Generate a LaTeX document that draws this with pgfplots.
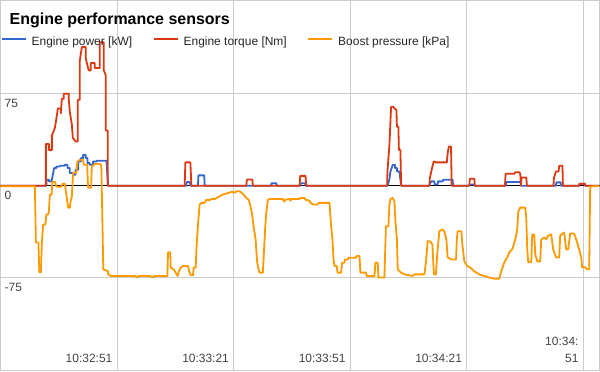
\documentclass[border=0pt]{standalone}
\usepackage{pgfplots}
\pgfplotsset{compat=1.18}
\usepackage{fontspec}
\setmainfont{Liberation Sans}
\definecolor{gpower}{HTML}{3366CC}
\definecolor{gtorque}{HTML}{DC3912}
\definecolor{gboost}{HTML}{FF9900}
\definecolor{ggrid}{HTML}{CCCCCC}
\definecolor{glabel}{HTML}{444444}
\begin{document}
\begin{tikzpicture}
\begin{axis}[
  width=600pt, height=371pt, scale only axis,
  xmin=0, xmax=154.2, ymin=-151, ymax=151,
  axis line style={draw=ggrid, line width=1pt},
  xtick={30,60,90,120,150},
  xticklabels={10:32:51,10:33:21,10:33:51,10:34:21,{10:34:\\51}},
  ytick={-75,75},
  yticklabels={-75,75},
  extra y ticks={0}, extra y tick labels={0},
  extra y tick style={grid style={draw=black, line width=1pt}},
  grid=major, grid style={draw=ggrid, line width=1pt},
  major tick length=0pt,
  tick style={draw=none},
  xticklabel style={anchor=south east, inner sep=0pt, xshift=-4.5pt, yshift=8pt, align=right, font=\fontsize{12}{17}\selectfont, text=glabel},
  yticklabel style={anchor=north west, inner sep=0pt, xshift=4pt, yshift=-5pt, font=\fontsize{12}{14}\selectfont, text=glabel},
  legend columns=3,
  legend style={at={(0,1)}, anchor=north west, yshift=-36pt, draw=none, fill=none, inner sep=0pt,
    nodes={inner sep=0pt, text=black!85, font=\fontsize{12}{14}\selectfont},
    /tikz/every even column/.append style={column sep=20.5pt},
    /tikz/every odd column/.append style={column sep=5pt}},
  legend image code/.code={\draw[#1, line width=2pt] (0pt,3pt) -- (24pt,3pt);},
  every axis plot/.append style={line width=1.8pt, line join=round},
]
% Engine power [kW]
\addplot[gpower] coordinates {
(0,0)(11.86,0)(11.86,4.9)(12.45,4.9)(12.45,3.5)(13.14,3.5)(13.55,10.3)(13.81,14.4)(14.43,14.4)(14.43,15.7)(15.28,15.7)(15.28,16.2)(16.56,16.2)(16.56,17.1)(17.26,17.1)(17.26,14.4)(17.85,14.4)(17.85,10.3)(18.70,10.3)(18.70,8.9)(19.31,8.9)(19.31,13)(19.98,13)(19.98,19.7)(20.68,19.7)(20.68,22.5)(21.27,22.5)(21.27,25.2)(21.96,25.2)(21.96,22.5)(22.40,22.5)(22.40,18.4)(22.99,18.4)(22.99,17.1)(23.84,17.1)(23.84,19.7)(24.71,19.7)(24.71,20.3)(27.28,20.3)(27.69,0)
(47.85,0)(47.95,3)(48.78,3)(48.88,0)(50.83,0)(50.95,8.4)(52.45,8.4)(52.56,0)(69.70,0)(69.8,2)(71.0,2)(71.14,0)(77.16,0)(77.3,2)(78.4,2)(78.52,0)
(99.68,0)(100.12,5.4)(100.38,11.6)(100.97,17)(101.58,17)(101.58,14.4)(102.10,14.4)(102.10,11.6)(102.69,11.6)(103.13,0)
(110.40,0)(110.5,2)(110.99,3.5)(111.68,3.5)(111.8,1)(112.53,1)(112.65,3.5)(113.82,3.5)(113.95,4.9)(116.39,4.9)(116.5,0)
(120.69,0)(120.8,1)(121.9,1)(121.97,0)(130.12,0)(130.2,3)(133.9,3)(133.98,0)(142.98,0)(143.1,2.7)(144.2,2.7)(144.26,0)(148.97,0)(149.05,1.6)(150.45,1.6)(150.51,0)(154.11,0)
};
\addlegendentry{Engine power [kW]}
% Engine torque [Nm]
\addplot[gtorque] coordinates {
(0,0)(11.68,0)(11.68,34)(12.45,34)(12.45,29)(13.22,29)(13.22,41)(13.99,47)(14.50,57)(14.76,63)(15.53,63)(15.53,59)(15.79,71)(16.30,71)(16.30,75)(17.59,75)(17.59,70)(17.85,60)(18.36,50)(18.62,39)(19.39,36)(19.90,36)(19.90,70)(20.42,70)(20.42,102)(20.93,113)(21.96,113)(21.96,104)(22.22,100)(22.73,94)(23.25,94)(23.25,100)(24.27,100)(24.27,96)(25.56,96)(25.56,117)(26.59,117)(26.59,94)(27.10,90)(27.10,45)(27.62,45)(27.62,0)
(47.41,0)(47.59,19)(48.88,19)(49.14,0)(63.28,0)(63.43,5)(64.82,5)(64.97,0)(76.98,0)(77.16,8)(78.52,8)(78.70,0)
(99.53,0)(99.61,11.6)(100.12,33.3)(100.55,64.3)(101.15,64.3)(101.40,63)(101.92,61.7)(102.05,48.1)(102.43,48.1)(102.56,29.2)(102.95,29.2)(103.13,0)
(110.40,0)(110.53,6.2)(110.99,13)(111.51,19.7)(112.12,19)(114.90,19)(115.11,26.5)(115.42,31.9)(115.98,31.9)(116.14,0)
(120.69,0)(120.81,5.7)(121.97,5.7)(122.10,0)(129.86,0)(130.02,9.7)(132.26,9.7)(132.51,11)(133.54,11)(133.80,9.7)(133.98,0)(134.13,6.7)(135.34,6.7)(135.52,0)
(142.36,0)(142.46,6.2)(142.98,11.6)(143.65,11.6)(143.83,16.2)(144.67,16.2)(144.78,0)(148.97,0)(149.04,1.6)(150.43,1.6)(150.51,0)(154.11,0)
};
\addlegendentry{Engine torque [Nm]}
% Boost pressure [kPa]
\addplot[gboost] coordinates {
(0,-0.4)(8.85,-0.4)(9.11,-46.3)(9.75,-46.3)(10.01,-70.6)(10.39,-70.6)(10.65,-46.3)(10.98,-31.7)(11.55,-31.7)(11.81,-23.5)(12.27,-23.5)(12.45,-21.1)(12.71,-7.3)(13.14,-7.3)(13.35,3.2)(13.99,3.2)(14.43,-0.8)(15.71,-0.8)(15.92,1.6)(16.56,1.6)(16.95,-7.3)(17.41,-17.9)(17.85,-17.9)(17.98,-13.8)(18.36,-8.9)(18.70,10.6)(19.52,10.6)(19.78,19.5)(20.42,21.1)(21.27,21.1)(21.45,17.1)(22.30,17.1)(22.55,-1.6)(23.32,-1.6)(23.50,15.4)(24.27,17.9)(25.56,17.9)(25.95,16.2)(26.20,-23.5)(26.46,-68.2)(27.62,-69.6)(27.75,-72.3)(28.39,-73.6)
(34.56,-73.6)(35.07,-74.7)(35.59,-73.6)(38.42,-73.6)(39.19,-74.7)(39.70,-73.6)(42.97,-73.6)(43.12,-54.2)(43.69,-54.2)(43.81,-66.8)(44.59,-68.2)(45.10,-70.9)(45.61,-73.6)(45.87,-70.4)(46.39,-66.8)(46.98,-65.5)(48.26,-65.5)(48.57,-69.8)(48.96,-73.1)(49.55,-73.1)(49.73,-66.8)(50.24,-66.8)(50.50,-47.9)(50.88,-30.3)(51.27,-15.4)(51.71,-14.0)
(52.56,-14.0)(52.99,-11.4)(53.84,-11.8)(54.36,-10.8)(55.13,-11.0)(55.64,-10.0)(56.41,-8.7)(57.18,-7.3)(57.95,-6.5)(58.73,-5.9)(59.50,-4.9)(60.27,-5.7)(60.78,-4.6)(61.55,-4.6)(62.07,-5.7)(62.58,-7.3)(63.28,-10.0)(63.87,-11.4)(64.25,-15.4)(64.77,-23.5)(65.15,-33.3)(65.67,-43.8)(66.05,-61.7)(66.31,-66.8)(66.70,-70.9)(67.54,-70.9)(67.85,-52.0)(68.11,-35.7)(68.37,-23.5)(68.83,-11.4)(69.52,-10.8)(72.69,-10.8)(73.00,-13.0)(73.38,-11.4)(74.41,-10.8)(74.67,-12.2)(74.92,-10.8)(76.98,-10.8)(77.24,-10.0)(78.27,-10.0)(78.52,-11.4)(79.55,-12.2)(79.81,-14.0)(80.40,-15.4)(81.61,-15.4)(81.86,-14.0)(84.69,-14.0)(85.08,-31.7)(85.46,-43.8)(85.72,-60.1)(85.98,-65.5)(86.57,-65.5)(86.75,-70.9)(87.70,-70.9)(87.91,-62.8)(88.55,-62.8)(88.68,-60.1)(89.40,-60.1)(89.58,-58.7)(91.56,-58.7)(91.63,-57.4)(92.41,-57.4)(92.66,-70.9)(94.13,-70.9)(94.21,-73.6)(96.26,-73.6)(96.52,-62.8)(97.11,-62.8)(97.29,-74.9)(98.83,-74.9)
(99.22,-33.0)(99.86,-33.0)(100.12,-15.4)(100.38,-10.8)(100.97,-10.0)(101.40,-12.7)(101.66,-29.2)(102.05,-43.8)(102.25,-68.2)(103.13,-70.9)(103.98,-72.3)(106.11,-73.6)(106.55,-72.3)(109.12,-72.3)(109.55,-61.5)(109.97,-45.2)(110.66,-45.5)(111.18,-47.9)(111.56,-72.3)(112.07,-72.3)(112.46,-54.6)(112.97,-37.1)(113.82,-35.7)(114.26,-37.4)(114.77,-43.8)(115.11,-58.5)(115.98,-60.1)(117.27,-60.1)(117.47,-43.8)(117.68,-37.1)(118.63,-37.1)(118.89,-47.9)(119.40,-61.7)(120.17,-65.5)(120.94,-66.8)(121.97,-69.8)(123.26,-72.3)(124.54,-73.6)(125.83,-74.9)(127.11,-75.8)(128.40,-75.8)
(128.91,-69.8)(129.69,-62.5)(130.46,-58.5)(130.97,-54.4)(131.74,-52.0)(132.51,-43.8)(133.03,-35.7)(133.28,-21.1)(133.80,-17.9)(135.08,-17.9)(135.34,-26.0)(135.60,-52.0)(135.86,-62.5)(136.63,-62.5)(136.88,-39.8)(137.40,-39.8)(137.66,-56.0)(138.17,-61.7)(138.94,-61.7)(139.20,-43.8)(139.97,-42.2)(140.48,-43.8)(141.00,-40.6)(141.77,-39.8)(142.28,-52.0)(143.05,-58.5)(143.83,-58.5)(144.08,-40.6)(145.11,-38.2)(145.63,-52.0)(146.14,-52.0)(146.65,-39.0)(147.68,-39.0)(148.20,-43.8)(148.97,-52.0)(149.48,-58.5)(149.74,-66.6)(150.51,-66.6)(151.02,-68.2)(151.54,-68.2)(151.80,-0.8)(154.11,0)
};
\addlegendentry{Boost pressure [kPa]}
\end{axis}
\node[anchor=base west, inner sep=0pt, font=\fontsize{16}{19}\selectfont\bfseries] at ([xshift=9pt, yshift=-24pt]current axis.north west) {Engine performance sensors};
\end{tikzpicture}
\end{document}
